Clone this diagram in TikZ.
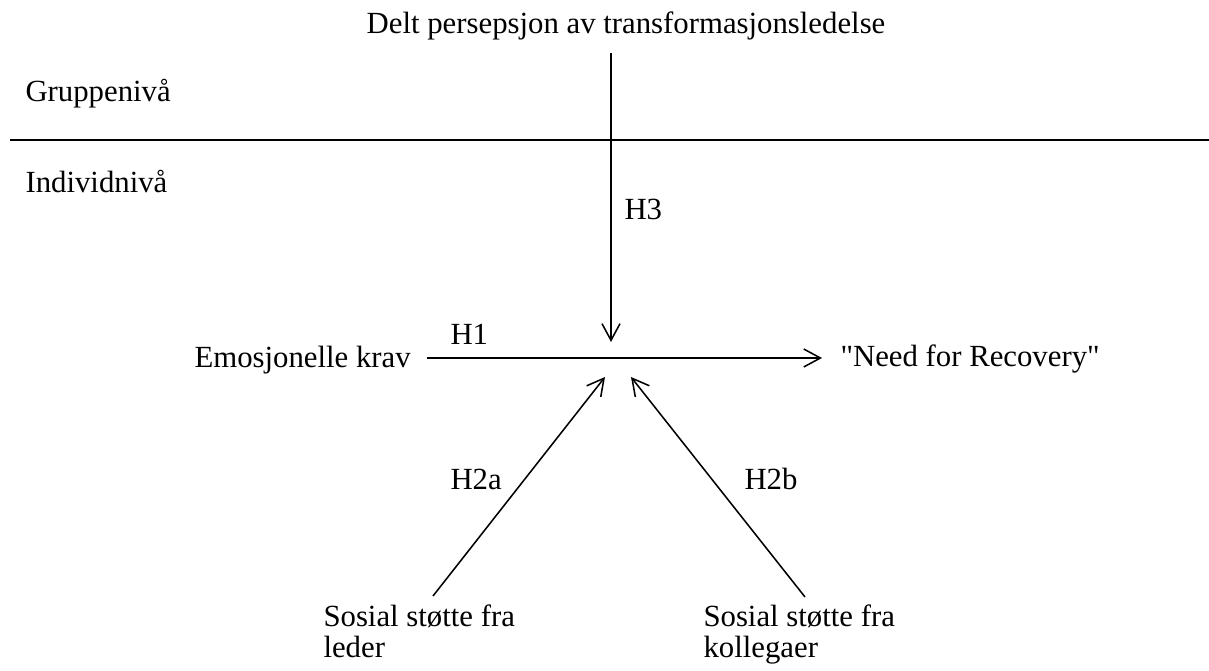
\documentclass[tikz,border=0pt]{standalone}
\usepackage{fontspec}
\setmainfont{Liberation Serif}
\usetikzlibrary{arrows.meta}
\begin{document}
\begin{tikzpicture}[x=0.39pt, y=-0.39pt,
  txt/.style={inner sep=0pt, anchor=base west, align=left, font=\fontsize{12}{12.1}\selectfont},
  arr/.style={-{Straight Barb[length=6.5pt,width=7pt]}, line width=0.6pt}]
\useasboundingbox (0,0) rectangle (1209,671);
% levels
\node[txt, anchor=base] (title) at (626,34) {Delt persepsjon av transformasjonsledelse};
\node[txt] (grp) at (25,102) {Gruppeniv\aa};
\node[txt] (ind) at (25,193) {Individniv\aa};
\draw[line width=1.1pt] (10,140) -- (1209,140);
% variables (multi-line nodes sit on their last line)
\node[txt] (emo) at (194,368) {Emosjonelle krav};
\node[txt] (nfr) at (840,367) {\textquotedbl Need for Recovery\textquotedbl};
\node[txt] (leder) at (323,658) {Sosial st\o tte fra\\leder};
\node[txt] (koll) at (703,658) {Sosial st\o tte fra\\kollegaer};
% hypotheses
\node[txt] (h1) at (450,345) {H1};
\node[txt] (h3) at (624,220) {H3};
\node[txt] (h2a) at (450,490) {H2a};
\node[txt] (h2b) at (744,490) {H2b};
% arrow ends
\coordinate (hub) at (611,358);
\coordinate (h3start) at (611,53);
\coordinate (h3end) at (611,342);
\coordinate (h2astart) at (433,596);
\coordinate (h2aend) at (605,377);
\coordinate (h2bstart) at (805,597);
\coordinate (h2bend) at (631,377);
\draw[arr, shorten <=6pt, shorten >=7pt] (emo.east |- hub) -- (nfr.west |- hub);
\draw[arr] (h3start) -- (h3end);
\draw[arr] (h2astart) -- (h2aend);
\draw[arr] (h2bstart) -- (h2bend);
\end{tikzpicture}
\end{document}
